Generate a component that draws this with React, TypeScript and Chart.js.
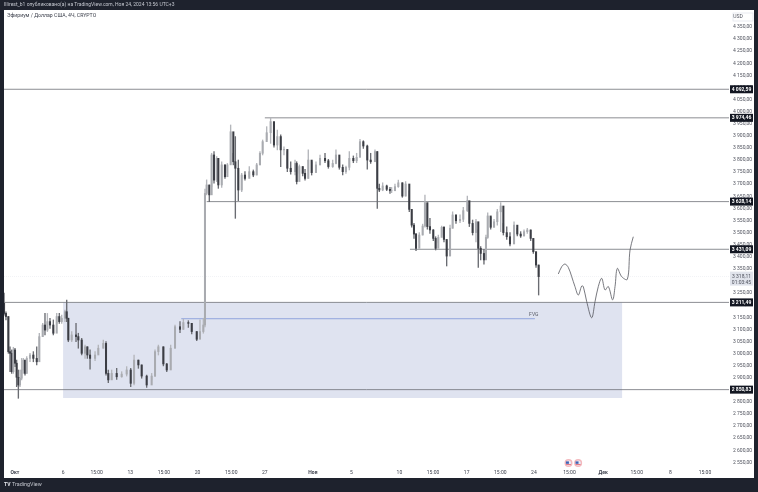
import React, { useEffect, useRef } from "react";
import { Chart, registerables } from "chart.js";

Chart.register(...registerables);

// Day numbers count from 1 October (32 = 1 November, 62 = 1 December).
const candleDays = [
  -0.14, 0.06, 0.31, 0.48, 0.65, 0.83, 1.0, 1.17, 1.35, 1.52, 1.69, 1.87, 2.04, 2.22, 2.56, 2.91, 3.26, 3.53, 3.88, 4.12, 4.37, 4.64, 4.99, 5.34, 5.61, 5.86, 6.2, 6.38, 6.55, 6.9, 7.35, 7.59, 7.94, 8.29, 8.53, 8.81, 9.33, 9.67, 10.19, 10.47, 10.71, 11.06, 11.58, 12.1, 12.62, 13.04, 13.39, 13.84, 14.18, 14.7, 15.22, 15.57, 15.92, 16.44, 16.79, 17.2, 17.65, 18.17, 18.52, 19.04, 19.39, 19.91, 20.25, 20.6,
  20.77,
  20.94, 21.22, 21.46, 21.71, 21.99, 22.16, 22.51, 22.85, 23.1, 23.44, 23.72, 23.93, 24.24, 24.59, 24.93, 25.38, 25.8, 26.15, 26.49, 26.77, 27.19, 27.6, 27.95, 28.3, 28.65, 28.99, 29.34, 29.69, 30.14, 30.31, 30.59, 30.94, 31.18, 31.52, 31.87, 32.32, 32.74, 33.26, 33.61, 34.06, 34.4, 34.75, 35.1, 35.44, 35.79, 36.21, 36.55, 36.9, 37.25, 37.66, 38.01, 38.46, 38.7, 38.91, 39.26, 39.68, 40.02,
  40.19, 40.54, 40.89, 41.31, 41.65, 42.03, 42.28, 42.52, 42.73, 43.07, 43.42, 43.66, 43.91, 44.18, 44.53, 44.77, 45.05, 45.4, 45.64, 45.92, 46.27, 46.54, 46.89, 47.31, 47.65, 48.07, 48.28, 48.62, 48.97, 49.21, 49.46, 49.8, 50.01, 50.19, 50.5, 50.85, 51.19, 51.54, 51.82, 52.17, 52.51, 52.93, 53.27, 53.62, 53.97, 54.31, 54.66, 54.94, 55.22, 55.49,
];
const candleCloses = [
  3166, 3153, 3008, 3001, 2925, 3015, 2960, 2902, 2870, 2898, 2932, 2973, 2918, 2980, 2994, 2980, 2966, 3070, 3118, 3097, 3132, 3118, 3084, 3153, 3132, 3146, 3173, 3146, 3056, 3077, 3070, 3056, 3001, 3028, 2994, 2980, 2994, 3022, 3042, 2918, 2891, 2918, 2904, 2915, 2932, 2877, 2973, 2953, 2907, 2870, 2907, 3008, 3028, 2957, 2932, 3022, 3111, 3100, 3128, 3125, 3091, 3059, 3091, 3118,
  3662,
  3697, 3656, 3821, 3717, 3807, 3697, 3780, 3731, 3780, 3917, 3793, 3766, 3676, 3738, 3724, 3752, 3738, 3780, 3828, 3876, 3913, 3959, 3862, 3897, 3842, 3844, 3766, 3752, 3786, 3711, 3773, 3745, 3724, 3800, 3748, 3780, 3807, 3797, 3773, 3786, 3821, 3770, 3752, 3770, 3807, 3797, 3811, 3876, 3858, 3800, 3793, 3835, 3683, 3676, 3693, 3679, 3673,
  3673, 3690, 3706, 3651, 3701, 3596, 3531, 3494, 3435, 3490, 3527, 3624, 3525, 3511, 3476, 3435, 3480, 3522, 3472, 3403, 3518, 3573, 3549, 3555, 3591, 3632, 3538, 3500, 3545, 3435, 3414, 3387, 3480, 3569, 3522, 3545, 3586, 3610, 3500, 3483, 3453, 3531, 3494, 3486, 3504, 3511, 3476, 3421, 3366, 3318,
];
const candleHighs = [
  3250, 3173, 3153, 3028, 3015, 3026, 3022, 2973, 2932, 2932, 2980, 2980, 2953, 2987, 3001, 3008, 3028, 3084, 3125, 3166, 3166, 3146, 3139, 3166, 3166, 3159, 3180, 3221, 3146, 3091, 3125, 3084, 3063, 3035, 3028, 3015, 3008, 3035, 3056, 3049, 2932, 2932, 2939, 2925, 2946, 2939, 2994, 2973, 2953, 2911, 2918, 3015, 3035, 3028, 2960, 3035, 3118, 3132, 3142, 3136, 3125, 3091, 3139, 3146,
  3680,
  3718, 3697, 3828, 3835, 3814, 3800, 3793, 3780, 3786, 3945, 3828, 3897, 3800, 3745, 3752, 3773, 3759, 3786, 3835, 3883, 3938, 3974, 3904, 3924, 3904, 3855, 3835, 3793, 3800, 3793, 3780, 3773, 3762, 3842, 3793, 3793, 3821, 3828, 3803, 3800, 3842, 3800, 3780, 3775, 3835, 3817, 3828, 3886, 3880, 3862, 3828, 3842, 3835, 3701, 3706, 3697, 3687,
  3687, 3701, 3717, 3706, 3711, 3673, 3596, 3538, 3497, 3500, 3535, 3655, 3621, 3559, 3513, 3483, 3490, 3527, 3525, 3467, 3531, 3586, 3573, 3573, 3604, 3651, 3614, 3552, 3555, 3511, 3442, 3431, 3490, 3582, 3563, 3555, 3596, 3624, 3538, 3524, 3500, 3545, 3518, 3504, 3511, 3518, 3511, 3476, 3421, 3366,
];
const candleLows = [
  3159, 3139, 3001, 2925, 2918, 2918, 2946, 2863, 2815, 2863, 2891, 2918, 2911, 2918, 2966, 2966, 2953, 2994, 3070, 3077, 3091, 3104, 3077, 3125, 3125, 3125, 3132, 3132, 3049, 3049, 3049, 3022, 2994, 2980, 2980, 2935, 2971, 3001, 3022, 2911, 2880, 2893, 2893, 2902, 2907, 2863, 2870, 2939, 2898, 2860, 2891, 2904, 2994, 2949, 2925, 2935, 3022, 3086, 3100, 3108, 3081, 3053, 3070, 3084,
  3110,
  3656, 3628, 3690, 3704, 3711, 3683, 3687, 3724, 3748, 3786, 3780, 3559, 3632, 3669, 3717, 3731, 3731, 3738, 3780, 3821, 3883, 3869, 3853, 3842, 3773, 3821, 3752, 3742, 3738, 3701, 3745, 3734, 3717, 3724, 3738, 3762, 3780, 3789, 3766, 3770, 3784, 3762, 3738, 3745, 3759, 3789, 3789, 3814, 3848, 3762, 3786, 3793, 3600, 3669, 3673, 3673, 3662,
  3665, 3679, 3687, 3646, 3651, 3587, 3522, 3476, 3425, 3462, 3490, 3522, 3514, 3497, 3467, 3428, 3458, 3490, 3462, 3362, 3462, 3518, 3538, 3541, 3545, 3587, 3525, 3490, 3462, 3356, 3387, 3370, 3414, 3476, 3514, 3522, 3531, 3504, 3490, 3472, 3445, 3476, 3486, 3480, 3486, 3497, 3467, 3414, 3356, 3242,
];
const firstOpen = 3208;

const forecastDays = [57.54, 57.89, 58.23, 58.58, 58.93, 59.27, 59.62, 59.97, 60.14, 60.49, 61.01, 61.36, 61.7, 62.05, 62.4, 62.74, 63.19, 63.44, 63.68, 64.13, 64.72, 65.0, 65.34];
const forecastPrices = [3329, 3359, 3370, 3356, 3318, 3277, 3242, 3279, 3277, 3215, 3148, 3215, 3277, 3311, 3263, 3277, 3222, 3277, 3352, 3318, 3307, 3428, 3483];

const levelPrices = [4092.59, 3974.46, 3628.14, 3431.09, 3211.49, 2850.83];
const levelStartDays = [-0.145, 27, 20.95, 42.1, -0.145, -0.145];
const zoneTop = 3211.49;
const zoneBottom = 2816;
const zoneStartDay = 6;
const zoneEndDay = 64.2;
const fvgPrice = 3144;
const fvgStartDay = 18.3;
const fvgEndDay = 55.1;
const currentPrice = 3318.11;
const eventDays = [58.6, 59.6];

const priceTicks = [4350, 4300, 4250, 4200, 4150, 4100, 4050, 4000, 3950, 3900, 3850, 3800, 3750, 3700, 3650, 3600, 3550, 3500, 3450, 3400, 3350, 3300, 3250, 3200, 3150, 3100, 3050, 3000, 2950, 2900, 2850, 2800, 2750, 2700, 2650, 2600, 2550];
const timeTickDays = [1, 6, 9.5, 13, 16.5, 20, 23.5, 27, 32, 36, 41, 44.5, 48, 51.5, 55, 58.7, 62.2, 65.7, 69.2, 72.8];
const timeTickLabels = ["Окт", "6", "15:00", "13", "15:00", "20", "15:00", "27", "Ноя", "5", "10", "15:00", "17", "15:00", "24", "15:00", "Дек", "15:00", "8", "15:00"];
const boldTimeLabels = ["Окт", "Ноя", "Дек"];

const HEADER_TEXT = "Illirest_b1 опубликовано(а) на TradingView.com, Ноя 24, 2024 13:56 UTC+3";
const SYMBOL_TEXT = "Эфириум / Доллар США, 4Ч, CRYPTO";
const FONT = "Roboto, 'Liberation Sans', sans-serif";
const DARK = "#1e222d";

const fmtPrice = (v: number) => {
  const [a, b] = v.toFixed(2).split(".");
  return `${a[0]} ${a.slice(1)},${b}`;
};

const overlayPlugin = {
  id: "overlay",
  beforeDraw(chart: any) {
    const { ctx, width, height } = chart;
    ctx.save();
    ctx.fillStyle = DARK;
    ctx.fillRect(0, 0, width, height);
    ctx.fillStyle = "#ffffff";
    ctx.fillRect(4, 10, 750, 468);
    ctx.restore();
  },
  afterDraw(chart: any) {
    const { ctx } = chart;
    const y = chart.scales.y;
    const x = chart.scales.x;
    ctx.save();
    ctx.textBaseline = "middle";
    ctx.font = `5px ${FONT}`;
    ctx.fillStyle = "#c4c7cf";
    ctx.textAlign = "left";
    ctx.fillText(HEADER_TEXT, 4, 5);
    ctx.fillStyle = "#3a3e4a";
    ctx.font = `5.2px ${FONT}`;
    ctx.fillText(SYMBOL_TEXT, 7, 16);

    ctx.fillStyle = "#5d606b";
    ctx.font = `5px ${FONT}`;
    ctx.fillText("FVG", x.getPixelForValue(54.5), y.getPixelForValue(fvgPrice) - 4);

    ctx.strokeStyle = "#e0e3eb";
    ctx.lineWidth = 0.7;
    ctx.strokeRect(733, 13, 20, 8);
    ctx.fillStyle = "#50535e";
    ctx.textAlign = "center";
    ctx.fillText("USD", 738, 17);

    levelPrices.forEach((p) => {
      const py = y.getPixelForValue(p);
      ctx.fillStyle = "#131722";
      ctx.fillRect(730, py - 4, 23, 8);
      ctx.fillStyle = "#ffffff";
      ctx.font = `bold 5px ${FONT}`;
      ctx.textAlign = "center";
      ctx.fillText(fmtPrice(p), 741.5, py + 0.3);
    });

    const cy = y.getPixelForValue(currentPrice);
    ctx.fillStyle = "#e0e3eb";
    ctx.fillRect(730, cy - 5, 23, 14);
    ctx.fillStyle = "#50535e";
    ctx.font = `5px ${FONT}`;
    ctx.fillText(fmtPrice(currentPrice), 741.5, cy);
    ctx.fillText("01:03:45", 741.5, cy + 6);

    eventDays.forEach((d) => {
      const ex = x.getPixelForValue(d);
      const ey = 463;
      ctx.beginPath();
      ctx.arc(ex, ey, 4, 0, Math.PI * 2);
      ctx.fillStyle = "#f3b8bd";
      ctx.fill();
      ctx.beginPath();
      ctx.arc(ex, ey, 2.6, 0, Math.PI * 2);
      ctx.fillStyle = "#e8ecf6";
      ctx.fill();
      ctx.fillStyle = "#3f62b5";
      ctx.fillRect(ex - 2.6, ey - 1.6, 3, 2.4);
      ctx.fillStyle = "#e2606b";
      ctx.fillRect(ex - 2.4, ey + 1, 4.8, 0.8);
    });

    ctx.fillStyle = "#e6e8ee";
    ctx.font = `bold 5px ${FONT}`;
    ctx.textAlign = "left";
    ctx.fillText("TV", 4, 485);
    ctx.fillStyle = "#c4c7cf";
    ctx.font = `5.4px ${FONT}`;
    ctx.fillText("TradingView", 12, 485);
    ctx.restore();
  },
};

export default function App() {
  const canvasRef = useRef<HTMLCanvasElement>(null);

  useEffect(() => {
    const opens = candleCloses.map((_, i) => (i === 0 ? firstOpen : candleCloses[i - 1]));
    const colors = candleCloses.map((c, i) => (c >= opens[i] ? "#a9abb0" : "#3b3d44"));
    const wicks = candleCloses.map((c, i) => (c >= opens[i] ? "#b4b6bb" : "#6a6c72"));
    const bodies = candleDays.map((d, i) => ({ x: d, y: [Math.min(opens[i], candleCloses[i]), Math.max(opens[i], candleCloses[i])] }));
    const ranges = candleDays.map((d, i) => ({ x: d, y: [candleLows[i], candleHighs[i]] }));
    const lastDay = 75.3;

    const levelSets = levelPrices.map((p, i) => ({
      type: "line",
      data: [{ x: levelStartDays[i], y: p }, { x: lastDay, y: p }],
      borderColor: "#6f7177",
      borderWidth: 0.8,
      pointRadius: 0,
      order: 3,
    }));

    const chart = new Chart(canvasRef.current as HTMLCanvasElement, {
      data: {
        datasets: [
          {
            type: "line",
            data: [{ x: zoneStartDay, y: zoneTop }, { x: zoneEndDay, y: zoneTop }],
            borderWidth: 0,
            pointRadius: 0,
            fill: { value: zoneBottom },
            backgroundColor: "#dfe3f0",
            order: 10,
          },
          {
            type: "line",
            data: [{ x: -0.145, y: currentPrice }, { x: lastDay, y: currentPrice }],
            borderColor: "#eceef2",
            borderWidth: 0.7,
            borderDash: [1, 1],
            pointRadius: 0,
            order: 9,
          },
          ...levelSets,
          {
            type: "line",
            data: [{ x: fvgStartDay, y: fvgPrice }, { x: fvgEndDay, y: fvgPrice }],
            borderColor: "#7c95d8",
            borderWidth: 0.8,
            pointRadius: 0,
            order: 3,
          },
          {
            type: "line",
            data: forecastDays.map((d, i) => ({ x: d, y: forecastPrices[i] })),
            borderColor: "#55575e",
            borderWidth: 0.8,
            pointRadius: 0,
            tension: 0.35,
            order: 2,
          },
          { type: "bar", data: ranges, backgroundColor: wicks, barThickness: 0.7, grouped: false, order: 1 },
          { type: "bar", data: bodies, backgroundColor: colors, barThickness: 1.4, grouped: false, order: 0 },
        ],
      } as any,
      options: {
        animation: false,
        responsive: false,
        devicePixelRatio: 1,
        layout: { padding: { left: 4, top: 10, right: 4, bottom: 14 } },
        plugins: { legend: { display: false }, title: { display: false }, tooltip: { enabled: false } },
        scales: {
          x: {
            type: "linear",
            offset: false,
            min: -0.145,
            max: lastDay,
            grid: { display: false, drawTicks: false },
            border: { display: false },
            afterBuildTicks: (s: any) => {
              s.ticks = timeTickDays.map((value) => ({ value }));
            },
            afterFit: (s: any) => {
              s.height = 11;
              s.paddingLeft = 0;
              s.paddingRight = 0;
            },
            ticks: {
              autoSkip: false,
              maxRotation: 0,
              padding: 3,
              color: "#3a3e4a",
              font: (c: any) => ({
                size: 5,
                family: FONT,
                weight: boldTimeLabels.includes(timeTickLabels[c.index]) ? "bold" : "normal",
              }),
              callback: (_v: any, i: number) => timeTickLabels[i],
            },
          },
          y: {
            type: "linear",
            position: "right",
            min: 2531,
            max: 4420.3,
            grid: { display: false, drawTicks: false },
            border: { display: false },
            afterBuildTicks: (s: any) => {
              s.ticks = priceTicks.map((value) => ({ value }));
            },
            afterFit: (s: any) => {
              s.width = 25;
              s.paddingTop = 0;
              s.paddingBottom = 0;
            },
            ticks: {
              autoSkip: false,
              padding: 4,
              color: "#50535e",
              font: { size: 5, family: FONT },
              callback: (v: any) => fmtPrice(Number(v)),
            },
          },
        },
      } as any,
      plugins: [overlayPlugin],
    } as any);
    return () => chart.destroy();
  }, []);

  return (
    <div style={{ position: "fixed", left: 0, top: 0, width: 758, height: 492, background: DARK }}>
      <canvas ref={canvasRef} width={758} height={492} style={{ display: "block" }} />
    </div>
  );
}
